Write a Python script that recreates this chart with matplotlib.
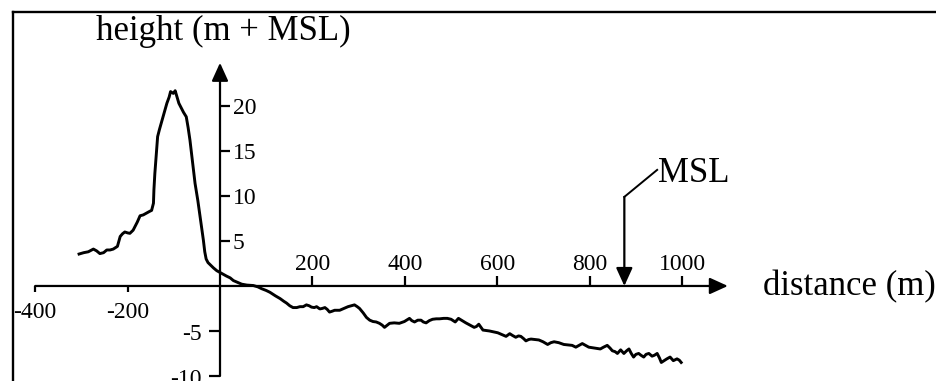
import matplotlib
matplotlib.use("Agg")
import matplotlib.pyplot as plt
from matplotlib.lines import Line2D
from matplotlib import transforms

# Beach / dune profile: distance along transect (m) and height relative to MSL (m)
distance = [
    -305, -295, -285, -274, -267, -260, -252, -245, -238, -231, -222, -216,
    -211, -206, -200, -195, -188, -179, -173, -166, -159, -152, -148, -144,
    -143, -141, -138, -135, -131, -126, -121, -115, -110, -107, -101, -97,
    -93, -89, -84, -79, -73, -69, -65, -60, -54, -48, -43, -39, -36, -33,
    -30, -26, -20, -14, -7, 0, 7, 14, 22, 29, 38, 47, 58, 72, 82, 90, 100,
    108, 120, 130, 138, 144, 151, 158, 166, 173, 180, 187, 193, 198, 204,
    209, 216, 221, 227, 232, 237, 243, 248, 259, 268, 277, 284, 291, 297,
    302, 310, 317, 324, 331, 338, 345, 351, 356, 361, 367, 377, 388, 399,
    410, 415, 421, 428, 435, 440, 446, 453, 460, 468, 475, 484, 492, 500,
    509, 516, 524, 532, 541, 550, 555, 560, 565, 569, 576, 583, 592, 601,
    610, 619, 627, 633, 640, 646, 651, 657, 662, 668, 673, 682, 690, 699,
    709, 716, 723, 733, 744, 753, 762, 770, 777, 784, 791, 798, 810, 823,
    830, 838, 844, 849, 855, 860, 867, 874, 880, 885, 890, 895, 900, 906,
    911, 917, 922, 928, 935, 940, 946, 951, 955, 961, 967, 974, 981, 989,
    994, 998,
]
height = [
    3.55, 3.7, 3.8, 4.1, 3.9, 3.6, 3.7, 4.0, 4.0, 4.1, 4.4, 5.5,
    5.8, 6.0, 5.9, 5.85, 6.2, 7.1, 7.8, 7.9, 8.1, 8.3, 8.4, 9.2,
    10.7, 12.5, 14.5, 16.6, 17.4, 18.3, 19.2, 20.3, 21.0, 21.6, 21.4, 21.7,
    21.0, 20.3, 19.8, 19.3, 18.8, 17.6, 16.2, 14.0, 11.4, 9.5, 7.7, 6.2, 5.1, 3.8,
    3.0, 2.6, 2.3, 2.0, 1.7, 1.5, 1.3, 1.1, 0.9, 0.6, 0.4, 0.2, 0.1, 0.05, -0.1, -0.3, -0.5,
    -0.7, -1.1, -1.4, -1.7, -1.9, -2.2, -2.4, -2.4, -2.3, -2.3, -2.1, -2.2, -2.35, -2.4,
    -2.3, -2.55, -2.5, -2.4, -2.6, -2.9, -2.8, -2.7, -2.7, -2.5, -2.3, -2.2, -2.1, -2.3,
    -2.5, -3.0, -3.5, -3.8, -3.95, -4.0, -4.15, -4.35, -4.6, -4.4, -4.15, -4.1, -4.15, -3.95,
    -3.6, -3.85, -4.0, -3.8, -3.8, -4.0, -4.1, -3.85, -3.7, -3.65, -3.65, -3.6, -3.6, -3.7,
    -4.0, -3.6, -3.85, -4.1, -4.35, -4.6, -4.5, -4.25, -4.6, -4.9, -4.95, -5.0, -5.1, -5.2,
    -5.4, -5.6, -5.3, -5.5, -5.7, -5.55, -5.6, -5.85, -6.1, -5.95, -5.9, -5.95, -6.0, -6.2,
    -6.5, -6.3, -6.2, -6.3, -6.5, -6.55, -6.6, -6.8, -6.6, -6.4, -6.6, -6.8, -6.9, -7.0,
    -6.8, -6.6, -6.9, -7.2, -7.3, -7.5, -7.1, -7.5, -7.2, -7.0, -7.5, -7.9, -7.6, -7.5,
    -7.7, -7.9, -7.6, -7.5, -7.8, -7.7, -7.5, -8.0, -8.5, -8.3, -8.1, -7.9, -8.3, -8.1,
    -8.25, -8.5,
]

x_ticks = [-400, -200, 200, 400, 600, 800, 1000]
y_ticks = [-10, -5, 5, 10, 15, 20]
x_axis_start = -400
x_axis_end = 1099
y_axis_start = -10
y_axis_end = 24.8
msl_distance = 875

x_label = "distance (m)"
y_label = "height (m + MSL)"
msl_label = "MSL"

SERIF = ["Liberation Serif", "DejaVu Serif"]
INK = "black"
TICK_SIZE = 17

fig = plt.figure(figsize=(9.37, 3.81), dpi=100, facecolor="white")
ax = fig.add_axes([0, 0, 1, 1])
ax.set_xlim(-476.1, 1551.6)
ax.set_ylim(-10.56, 31.78)
ax.axis("off")


def shifted(dx=0, dy=0):
    """Data transform offset by a number of pixels."""
    return transforms.offset_copy(ax.transData, fig=fig, x=dx, y=dy, units="dots")


# outer frame (left and top edges)
fig.add_artist(Line2D([13 / 937, 13 / 937], [0, 1 - 12 / 381],
                      transform=fig.transFigure, color=INK, lw=1.7))
fig.add_artist(Line2D([13 / 937, 1], [1 - 12 / 381, 1 - 12 / 381],
                      transform=fig.transFigure, color=INK, lw=1.7))

arrow_kw = dict(arrowstyle="-|>,head_length=1.1,head_width=0.5",
                mutation_scale=10, lw=1.6, color=INK,
                shrinkA=0, shrinkB=0)

# axes with arrow heads
ax.annotate("", xy=(x_axis_end, 0), xytext=(x_axis_start, 0), arrowprops=arrow_kw)
ax.annotate("", xy=(0, y_axis_end), xytext=(0, y_axis_start), arrowprops=arrow_kw)

# x ticks: positive ones point up, negative ones point down
for xt in x_ticks:
    if xt > 0:
        ax.plot([xt, xt], [0, 10 / 9], color=INK, lw=1.6, solid_capstyle="butt")
        ax.text(xt, 0, f"{xt}", transform=shifted(0, 16), ha="center",
                va="baseline", fontsize=TICK_SIZE, family=SERIF, color=INK)
    else:
        ax.plot([xt, xt], [0, -6 / 9], color=INK, lw=1.6, solid_capstyle="butt")
        ax.text(xt, 0, f"-{abs(xt)}", transform=shifted(0, -32), ha="center",
                va="baseline", fontsize=TICK_SIZE, family=SERIF, color=INK)

# y ticks: positive ones to the right, negative ones to the left
px_x = 1 / 0.4621
for yt in y_ticks:
    if yt > 0:
        ax.plot([0, 10 * px_x], [yt, yt], color=INK, lw=1.6, solid_capstyle="butt")
        ax.text(0, yt, f"{yt}", transform=shifted(13, -8), ha="left",
                va="baseline", fontsize=TICK_SIZE, family=SERIF, color=INK)
    else:
        ax.plot([-11 * px_x, 0], [yt, yt], color=INK, lw=1.6, solid_capstyle="butt")
        ax.text(0, yt, f"-{abs(yt)}", transform=shifted(-18, -9), ha="right",
                va="baseline", fontsize=TICK_SIZE, family=SERIF, color=INK)

# profile
ax.plot(distance, height, color=INK, lw=2.1, solid_joinstyle="round")

# MSL marker with leader line
ax.plot([msl_distance, 946], [9.9, 12.9], color=INK, lw=1.4)
ax.annotate("", xy=(msl_distance, 0), xytext=(msl_distance, 9.9), arrowprops=arrow_kw)
ax.text(948, 11.55, msl_label, ha="left", va="baseline", fontsize=25,
        family=SERIF, color=INK)

# axis titles
ax.text(8, 27.3, y_label, ha="center", va="baseline", fontsize=25,
        family=SERIF, color=INK)
ax.text(1175, -1.0, x_label, ha="left", va="baseline", fontsize=25,
        family=SERIF, color=INK)

fig.savefig("out.png", dpi=100, facecolor="white")
